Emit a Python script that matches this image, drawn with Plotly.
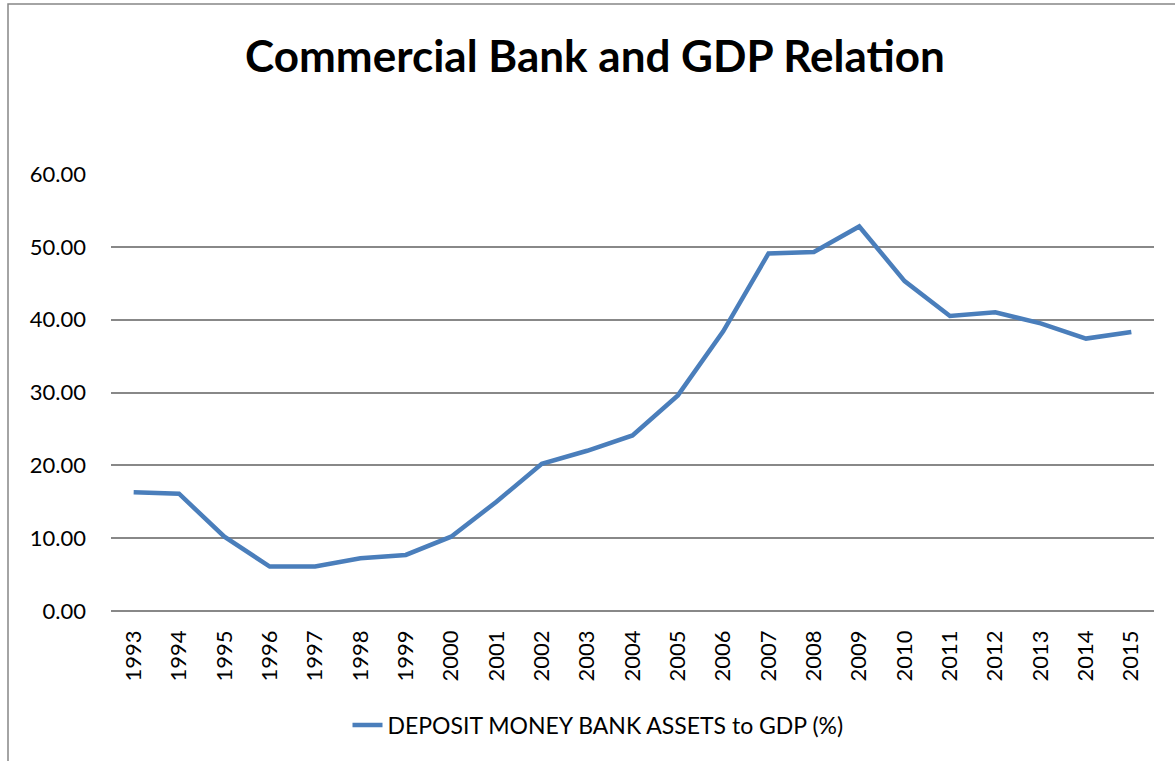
import plotly.graph_objects as go

# Deposit money bank assets as a share of GDP, by year
years = [str(y) for y in range(1993, 2016)]
deposit_assets_pct = [16.3, 16.1, 10.2, 6.1, 6.1, 7.25, 7.7, 10.2, 15.0, 20.2,
                      22.0, 24.1, 29.6, 38.4, 49.1, 49.3, 52.8, 45.3, 40.5,
                      41.0, 39.5, 37.4, 38.3]
y_ticks = [0, 10, 20, 30, 40, 50, 60]
y_tick_labels = [f"{v:.2f}" for v in y_ticks]

FONT = "Lato, 'Open Sans', sans-serif"
GRID = "#888888"

fig = go.Figure()
fig.add_trace(go.Scatter(
    x=years, y=deposit_assets_pct, mode="lines",
    name="DEPOSIT MONEY BANK ASSETS to GDP (%)",
    line=dict(color="#4A7EBB", width=4.5),
))

W, H = 1175, 761
ml, mr, mt, mb = 111, 21, 174, 150
pw, ph = W - ml - mr, H - mt - mb

def px_x(p):
    return (p - ml) / pw

def px_y(p):
    return (H - mb - p) / ph

fig.update_layout(
    width=W, height=H,
    margin=dict(l=ml, r=mr, t=mt, b=mb),
    paper_bgcolor="white", plot_bgcolor="white",
    font=dict(family=FONT, color="black", size=22),
    title=dict(text="<b>Commercial Bank and GDP Relation</b>",
               x=595 / W, xanchor="center", xref="container",
               y=1 - 57 / H, yanchor="middle", yref="container",
               font=dict(family=FONT, size=44, color="black")),
    showlegend=True,
    legend=dict(orientation="h", x=px_x(598), xanchor="center",
                y=px_y(725), yanchor="middle",
                font=dict(family=FONT, size=23, color="black")),
    xaxis=dict(type="category", range=[-0.5, len(years) - 0.5],
               showgrid=False, showline=False,
               tickangle=-90, ticks="", ticklabelstandoff=14,
               tickfont=dict(family=FONT, size=22), zeroline=False),
    yaxis=dict(range=[0, 60], tickvals=y_ticks, ticktext=y_tick_labels,
               showgrid=True, gridcolor=GRID, gridwidth=1.5,
               zeroline=True, zerolinecolor=GRID, zerolinewidth=1.5,
               showline=False, ticks="", ticklabelstandoff=24,
               tickfont=dict(family=FONT, size=22)),
    shapes=[dict(type="rect", xref="paper", yref="paper",
                 x0=px_x(8), x1=px_x(W + 20), y0=px_y(H + 20), y1=px_y(4),
                 line=dict(color="#868686", width=1.5), layer="below")],
)

fig.write_html("out.html")
